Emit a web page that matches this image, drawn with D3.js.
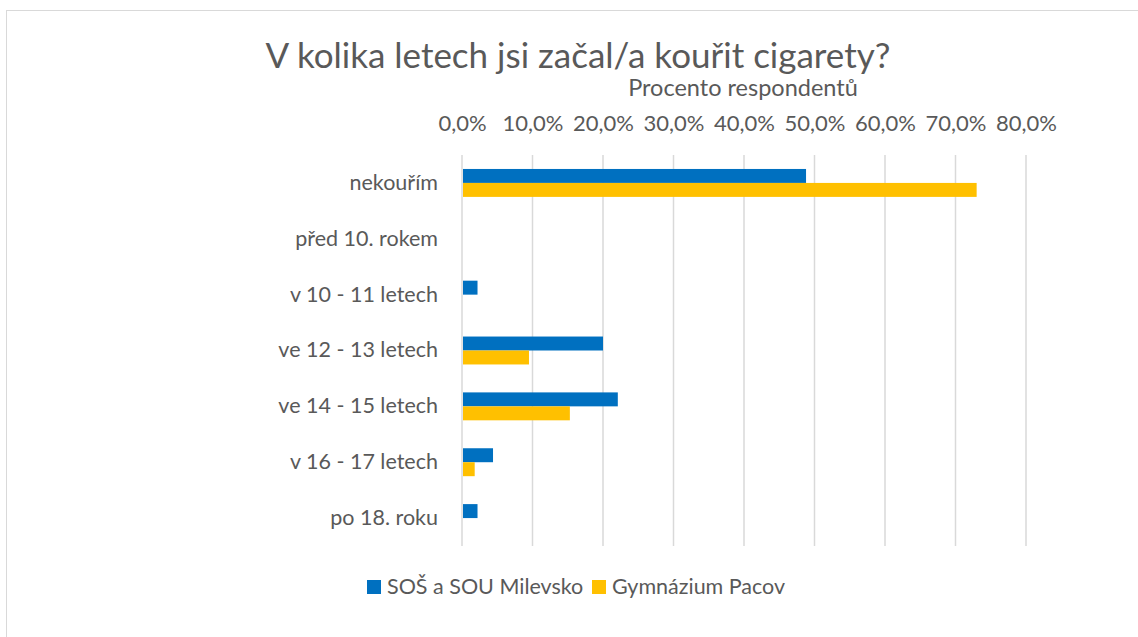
<!DOCTYPE html>
<html lang="cs">
<head>
<meta charset="UTF-8">
<title>V kolika letech jsi začal/a kouřit cigarety?</title>
<script src="https://d3js.org/d3.v7.min.js"></script>
<style>
  body { margin: 0; background: #fff; }
  svg text { font-family: Lato, "Open Sans", sans-serif; fill: #595959; }
</style>
</head>
<body>
<svg id="chart" width="1138" height="637"></svg>
<script>
  // data
  const categories = ["nekouřím", "před 10. rokem", "v 10 - 11 letech", "ve 12 - 13 letech",
                      "ve 14 - 15 letech", "v 16 - 17 letech", "po 18. roku"];
  const seriesNames = ["SOŠ a SOU Milevsko", "Gymnázium Pacov"];
  const milevsko = [48.8, 0, 2.2, 20.0, 22.1, 4.4, 2.2];
  const pacov = [73.0, 0, 0, 9.5, 15.3, 1.8, 0];
  const tickValues = [0, 10, 20, 30, 40, 50, 60, 70, 80];
  const colors = ["#0070c0", "#ffc000"];

  const svg = d3.select("#chart");
  const margin = { left: 462, right: 112, top: 155, bottom: 91 };
  const W = 1138, H = 637;

  // outer chart border (Excel-style)
  svg.append("rect")
    .attr("x", 6.5).attr("y", 10.5)
    .attr("width", 1140).attr("height", 640)
    .attr("fill", "none").attr("stroke", "#d9d9d9");

  const x = d3.scaleLinear().domain([0, 80]).range([margin.left, W - margin.right]);
  const y = d3.scaleBand().domain(categories).range([margin.top, H - margin.bottom]);
  const inner = d3.scaleBand().domain(seriesNames).range([0, y.bandwidth()]).paddingInner(0).paddingOuter(1.0);

  // gridlines
  svg.append("g").selectAll("line").data(tickValues).join("line")
    .attr("x1", d => x(d)).attr("x2", d => x(d))
    .attr("y1", margin.top).attr("y2", H - margin.bottom)
    .attr("stroke", "#d9d9d9").attr("stroke-width", 1.5);

  // top axis labels
  const axis = d3.axisTop(x).tickValues(tickValues).tickSize(0)
    .tickFormat(d => d.toFixed(1).replace(".", ",") + "%");
  const axisG = svg.append("g").attr("transform", "translate(0,134)").call(axis);
  axisG.select(".domain").remove();
  axisG.selectAll("text").attr("font-size", 22).attr("fill", "#595959");

  // category labels
  const yAxis = d3.axisLeft(y).tickSize(0).tickPadding(24);
  const yG = svg.append("g").attr("transform", `translate(${margin.left},0)`).call(yAxis);
  yG.select(".domain").remove();
  yG.selectAll("text").attr("font-size", 21.5).attr("fill", "#595959");

  // bars
  const rows = categories.map((c, i) => ({ c, vals: [milevsko[i], pacov[i]] }));
  const grp = svg.append("g").selectAll("g").data(rows).join("g")
    .attr("transform", d => `translate(0,${y(d.c)})`);
  grp.selectAll("rect").data(d => d.vals.map((v, k) => ({ v, k }))).join("rect")
    .attr("x", x(0) + 1)
    .attr("y", d => inner(seriesNames[d.k]))
    .attr("width", d => d.v > 0 ? x(d.v) - x(0) - 1 : 0)
    .attr("height", inner.bandwidth())
    .attr("fill", d => colors[d.k]);

  // titles
  svg.append("text").attr("x", 578).attr("y", 68).attr("text-anchor", "middle")
    .attr("font-size", 35).text("V kolika letech jsi začal/a kouřit cigarety?");
  svg.append("text").attr("x", 743).attr("y", 96).attr("text-anchor", "middle")
    .attr("font-size", 23.5).text("Procento respondentů");

  // legend
  const legend = svg.append("g").attr("transform", "translate(367,580)");
  const lx = [0, 225];
  seriesNames.forEach((n, i) => {
    const g = legend.append("g").attr("transform", `translate(${lx[i]},0)`);
    g.append("rect").attr("width", 14).attr("height", 14).attr("fill", colors[i]);
    g.append("text").attr("x", 20).attr("y", 14).attr("font-size", 21.5).text(n);
  });
</script>
</body>
</html>
